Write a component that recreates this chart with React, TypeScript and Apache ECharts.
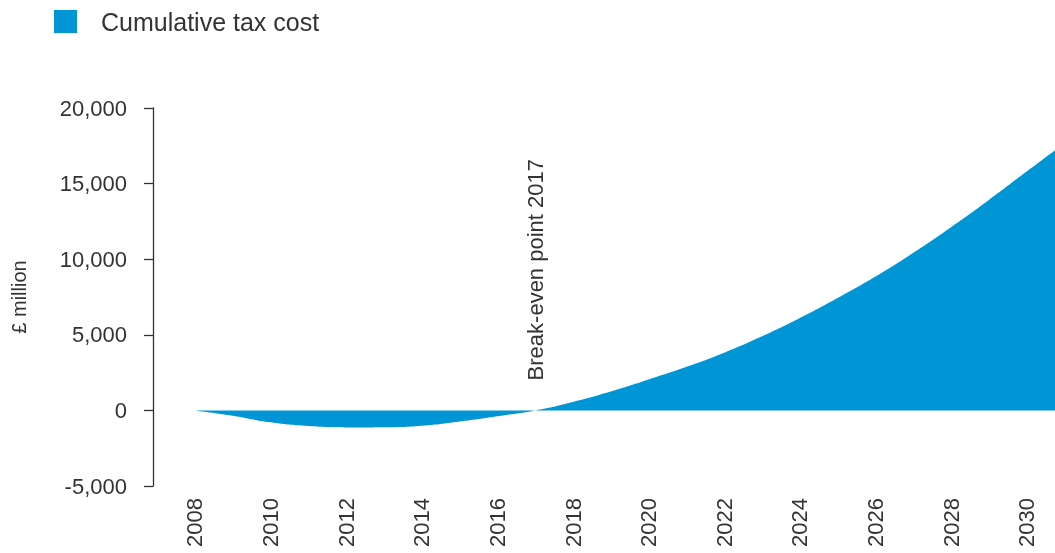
import React, { useEffect, useRef } from "react";
import * as echarts from "echarts";

const years = [2008, 2009, 2010, 2011, 2012, 2013, 2014, 2015, 2016, 2017, 2018, 2019, 2020, 2021, 2022, 2023, 2024, 2025, 2026, 2027, 2028, 2029, 2030, 2031];
const cumulativeTaxCost = [0, -350, -790, -1040, -1130, -1115, -1010, -730, -380, 0, 560, 1250, 2040, 2880, 3820, 4900, 6110, 7430, 8850, 10420, 12120, 13920, 15800, 17680];
const xTickYears = [2008, 2010, 2012, 2014, 2016, 2018, 2020, 2022, 2024, 2026, 2028, 2030];
const yTicks = [-5000, 0, 5000, 10000, 15000, 20000];
const seriesName = "Cumulative tax cost";
const breakEvenYear = 2017;
const breakEvenLabel = "Break-even point 2017";
const yAxisTitle = "£ million";

const BLUE = "#0096d6";
const TEXT = "#333333";
const FONT = "'Liberation Sans', Arial, sans-serif";

export default function App() {
  const ref = useRef<HTMLDivElement>(null);
  useEffect(() => {
    if (!ref.current) return;
    const chart = echarts.init(ref.current, undefined, { renderer: "svg" });
    chart.setOption({
      animation: false,
      color: [BLUE],
      textStyle: { fontFamily: FONT, color: TEXT },
      legend: {
        show: true,
        left: 54,
        top: 9,
        padding: 0,
        icon: "rect",
        itemWidth: 23,
        itemHeight: 23,
        itemGap: 20,
        textStyle: { fontSize: 25, color: TEXT, fontFamily: FONT, padding: [0, 0, 0, 19] },
        data: [seriesName],
      },
      grid: { left: 153, right: 0, top: 108, bottom: 67, containLabel: false, outerBoundsMode: "none" },
      xAxis: {
        type: "value",
        min: 2006.89,
        max: 2030.75,
        axisLine: { show: false },
        axisTick: { show: false },
        splitLine: { show: false },
        axisLabel: {
          customValues: xTickYears,
          rotate: 90,
          margin: 12,
          fontSize: 22,
          color: TEXT,
          fontFamily: FONT,
          formatter: (v: number) => String(v),
        },
      },
      yAxis: {
        type: "value",
        min: yTicks[0],
        max: yTicks[yTicks.length - 1],
        interval: 5000,
        name: yAxisTitle,
        nameLocation: "middle",
        nameGap: 124,
        nameTextStyle: { fontSize: 20, color: TEXT, fontFamily: FONT },
        axisLine: { show: true, lineStyle: { color: TEXT, width: 1.3 } },
        axisTick: { show: true, length: 9, lineStyle: { color: TEXT, width: 1.3 } },
        splitLine: { show: false },
        axisLabel: { margin: 26, fontSize: 22, color: TEXT, fontFamily: FONT },
      },
      series: [
        {
          name: seriesName,
          type: "line",
          smooth: 0.5,
          showSymbol: false,
          symbol: "none",
          clip: true,
          data: years.map((y, i) => [y, cumulativeTaxCost[i]]),
          lineStyle: { width: 0 },
          itemStyle: { color: BLUE },
          areaStyle: { color: BLUE, opacity: 1 },
          markPoint: {
            symbol: "circle",
            symbolSize: 0,
            data: [{ coord: [breakEvenYear, 0], value: 0 }],
            label: {
              show: true,
              position: "top",
              distance: 30,
              rotate: 90,
              align: "left",
              verticalAlign: "middle",
              fontSize: 22,
              color: TEXT,
              fontFamily: FONT,
              formatter: breakEvenLabel,
            },
          },
        },
      ],
    });
    return () => chart.dispose();
  }, []);
  return <div ref={ref} style={{ position: "fixed", left: 0, top: 0, width: 1055, height: 553 }} />;
}
